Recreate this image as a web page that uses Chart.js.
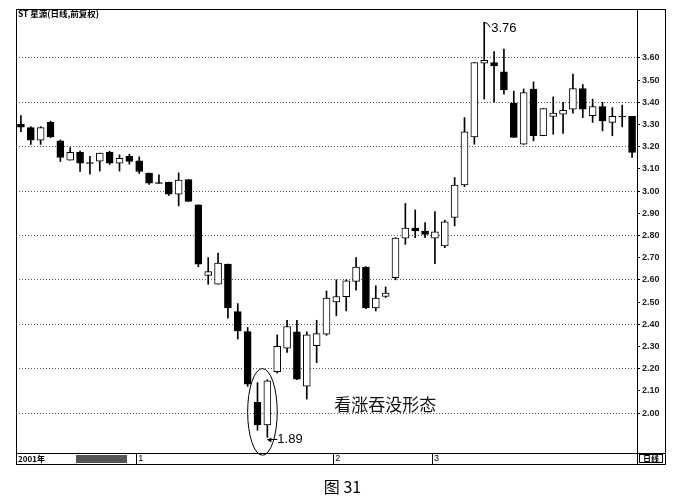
<!DOCTYPE html>
<html>
<head>
<meta charset="utf-8">
<script src="https://cdn.jsdelivr.net/npm/chart.js@4.4.1/dist/chart.umd.min.js"></script>
<style>
  html, body { margin: 0; padding: 0; background: #fff; }
</style>
</head>
<body>
<canvas id="kline" width="676" height="504"></canvas>
<script>
// --------------------------
// data (daily K line, 63 sessions)
// --------------------------
const opens  = [3.300,3.286,3.229,3.310,3.226,3.139,3.174,3.128,3.135,3.174,3.126,3.158,3.136,3.081,3.038,3.040,2.986,3.052,2.938,2.620,
                2.580,2.671,2.457,2.367,2.048,1.947,2.186,2.292,2.366,2.121,2.303,2.355,2.500,2.524,2.593,2.658,2.473,2.525,2.610,2.788,
                2.833,2.820,2.788,2.753,2.881,3.028,3.244,3.576,3.579,3.537,3.396,3.211,3.459,3.249,3.336,3.346,3.369,3.462,3.339,3.381,
                3.309,3.338,3.336];
const highs  = [3.340,3.290,3.290,3.315,3.230,3.196,3.180,3.156,3.171,3.180,3.163,3.166,3.154,3.081,3.073,3.040,3.082,3.052,2.938,2.700,
                2.720,2.671,2.493,2.385,2.137,2.150,2.352,2.418,2.418,2.366,2.418,2.550,2.600,2.600,2.700,2.660,2.573,2.568,2.790,2.944,
                2.915,2.858,2.908,2.869,3.061,3.331,3.579,3.760,3.628,3.639,3.450,3.460,3.492,3.372,3.424,3.400,3.527,3.480,3.414,3.400,
                3.376,3.387,3.336];
const lows   = [3.267,3.210,3.210,3.240,3.133,3.139,3.088,3.076,3.090,3.120,3.090,3.121,3.079,3.030,3.034,2.980,2.933,2.953,2.659,2.580,
                2.580,2.427,2.333,2.120,1.923,1.890,2.180,2.273,2.150,2.063,2.227,2.350,2.438,2.460,2.554,2.470,2.460,2.520,2.600,2.760,
                2.790,2.790,2.673,2.745,2.843,3.020,3.211,3.414,3.400,3.436,3.241,3.210,3.226,3.249,3.256,3.259,3.351,3.331,3.309,3.271,
                3.249,3.289,3.151];
const closes = [3.288,3.229,3.286,3.244,3.151,3.174,3.126,3.124,3.171,3.126,3.147,3.133,3.088,3.036,3.034,2.986,3.049,2.953,2.671,2.637,
                2.675,2.473,2.370,2.130,1.947,2.145,2.300,2.390,2.153,2.352,2.358,2.518,2.525,2.595,2.658,2.475,2.518,2.540,2.788,2.833,
                2.820,2.805,2.816,2.861,3.027,3.267,3.579,3.589,3.564,3.455,3.241,3.444,3.249,3.372,3.351,3.364,3.462,3.369,3.381,3.316,
                3.336,3.334,3.174];

const priceTicks  = [2.0,2.1,2.2,2.3,2.4,2.5,2.6,2.7,2.8,2.9,3.0,3.1,3.2,3.3,3.4,3.5,3.6];
const gridLevels  = [2.0,2.2,2.4,2.6,2.8,3.0,3.2,3.4,3.6];
const monthLabels = ['1','2','3'];
const monthStarts = [12, 32, 42];
const yearLabel   = '2001年';
const titleText   = 'ST 星源(日线,前复权)';
const patternText = '看涨吞没形态';
const captionText = '图 31';

const days = opens.map((_, i) => i + 1);
const isUp = i => closes[i] >= opens[i];

// --------------------------
// frame, date bar, notes
// --------------------------
const AXIS_W = 28, BAR_H = 11;

function hline(ctx, x1, x2, y){ ctx.beginPath(); ctx.moveTo(x1, Math.round(y)+.5); ctx.lineTo(x2, Math.round(y)+.5); ctx.stroke(); }
function vline(ctx, x, y1, y2){ ctx.beginPath(); ctx.moveTo(Math.round(x)+.5, y1); ctx.lineTo(Math.round(x)+.5, y2); ctx.stroke(); }

const notes = {
  id: 'notes',
  afterDatasetsDraw(chart){
    const {ctx, scales:{x, y}} = chart;
    ctx.save();
    ctx.strokeStyle = '#000'; ctx.fillStyle = '#000'; ctx.lineWidth = 1;

    // peak 3.76
    const pi = highs.indexOf(Math.max(...highs));
    const px = x.getPixelForValue(pi), py = y.getPixelForValue(highs[pi]);
    ctx.beginPath(); ctx.moveTo(px, py); ctx.lineTo(px + 3, py + 1); ctx.lineTo(px + 6, py + 5); ctx.stroke();
    ctx.font = '13px "Liberation Sans"'; ctx.textBaseline = 'middle'; ctx.textAlign = 'left';
    ctx.fillText(highs[pi].toFixed(2), px + 7, py + 6);

    // trough 1.89
    const ti = lows.indexOf(Math.min(...lows));
    const tx = x.getPixelForValue(ti), ty = y.getPixelForValue(lows[ti]) + 2;
    hline(ctx, tx, tx + 10, ty);
    ctx.beginPath(); ctx.moveTo(tx, ty + .5); ctx.lineTo(tx + 4, ty - 2); ctx.lineTo(tx + 4, ty + 3); ctx.closePath(); ctx.fill();
    ctx.fillText(lows[ti].toFixed(2), tx + 10, ty);

    // ellipse round the engulfing pair
    const cx = (x.getPixelForValue(ti - 1) + x.getPixelForValue(ti)) / 2;
    const slot = x.getPixelForValue(1) - x.getPixelForValue(0);
    const yTop = y.getPixelForValue(2.20), yBot = y.getPixelForValue(1.81);
    ctx.beginPath();
    ctx.ellipse(cx, (yTop + yBot) / 2, slot * 1.5, (yBot - yTop) / 2, 0, 0, Math.PI * 2);
    ctx.stroke();

    // pattern name
    ctx.font = '17px "Noto Sans CJK SC"';
    ctx.fillStyle = '#111';
    ctx.fillText(patternText, x.getPixelForValue(monthStarts[1]) - 2, y.getPixelForValue(2.04));
    ctx.restore();
  },
  afterDraw(chart){
    const {ctx, chartArea:a, scales:{x}} = chart;
    const right = a.right + AXIS_W, bot = a.bottom + BAR_H;
    ctx.save();
    ctx.strokeStyle = '#000'; ctx.lineWidth = 1;
    ctx.strokeRect(a.left + .5, a.top + .5, right - a.left, bot - a.top);
    vline(ctx, a.right, a.top, bot);
    hline(ctx, a.left, right, a.bottom);

    // title
    ctx.fillStyle = '#000';
    ctx.font = 'bold 8.5px "Noto Sans CJK SC"';
    ctx.textBaseline = 'middle'; ctx.textAlign = 'left';
    ctx.fillText(titleText, a.left + 2, a.top + 5);

    // date bar
    const my = a.bottom + BAR_H / 2 + .5;
    ctx.font = 'bold 8px "Noto Sans CJK SC"';
    ctx.fillText(yearLabel, a.left + 2, my);
    ctx.fillStyle = '#555';
    ctx.fillRect(a.left + 60, a.bottom + 2, 51, BAR_H - 3);
    ctx.fillStyle = '#000';
    ctx.font = '9px "Liberation Sans"';
    monthStarts.forEach((d, k) => {
      const mx = x.getPixelForValue(d) - 3;
      vline(ctx, mx, a.bottom, bot);
      ctx.fillText(monthLabels[k], mx + 2, my);
    });
    ctx.font = 'bold 8px "Noto Sans CJK SC"';
    ctx.strokeRect(a.right + 2.5, a.bottom + 1.5, AXIS_W - 5, BAR_H - 3);
    ctx.fillText('日线', a.right + 6, my);

    // caption
    ctx.font = '16px "Noto Sans CJK SC"';
    ctx.textAlign = 'center';
    ctx.fillText(captionText, (a.left + right) / 2 + 2, bot + 23);
    ctx.restore();
  }
};

// --------------------------
// chart
// --------------------------
new Chart(document.getElementById('kline'), {
  type: 'bar',
  data: {
    labels: days,
    datasets: [
      {
        label: 'body',
        data: opens.map((o, i) => [o, closes[i]]),
        backgroundColor: c => isUp(c.dataIndex) ? '#fff' : '#000',
        borderColor: '#000', borderWidth: 1, borderSkipped: false,
        barThickness: 7, grouped: false, order: 1
      },
      {
        label: 'wick',
        data: lows.map((l, i) => [l, highs[i]]),
        backgroundColor: '#000', borderWidth: 0,
        barThickness: 1, grouped: false, order: 2
      }
    ]
  },
  options: {
    responsive: false, animation: false,
    layout: { padding: { left: 16, top: 9, right: 676 - 665, bottom: 51 } },
    plugins: { legend: { display: false }, tooltip: { enabled: false } },
    scales: {
      x: { type: 'category', display: false, offset: true, grid: { display: false } },
      y: {
        position: 'right', min: 1.82, max: 3.82,
        afterFit: s => { s.width = AXIS_W; },
        afterBuildTicks: s => { s.ticks = priceTicks.map(v => ({ value: v })); },
        border: { display: false, dash: [1, 2] },
        grid: {
          color: c => gridLevels.some(g => Math.abs(g - c.tick.value) < 1e-6) ? 'rgba(0,0,0,.65)' : 'rgba(0,0,0,0)',
          tickColor: '#000', tickLength: 3, tickBorderDash: []
        },
        ticks: {
          autoSkip: false, padding: 2, color: '#222',
          font: { family: 'Liberation Sans', size: 9, weight: 'bold' },
          callback: v => Number(v).toFixed(2)
        }
      }
    }
  },
  plugins: [notes]
});
</script>
</body>
</html>
